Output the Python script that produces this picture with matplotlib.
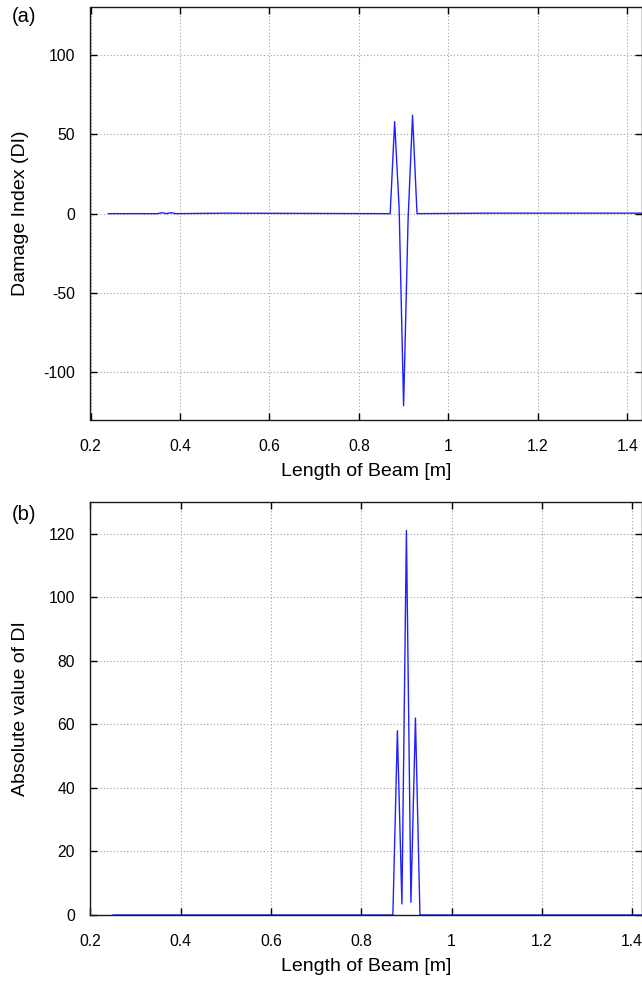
import matplotlib
matplotlib.use("Agg")
import matplotlib.pyplot as plt

plt.rcParams['font.family'] = ['Liberation Sans', 'DejaVu Sans']
plt.rcParams['axes.unicode_minus'] = False

# Panel (a): damage index along the beam (breakpoints of the polyline)
pos_a = [0.24, 0.35, 0.36, 0.37, 0.38, 0.39, 0.50, 0.86, 0.87, 0.88, 0.89, 0.90, 0.91, 0.92, 0.93, 1.08, 1.44]
di_a = [0.0, 0.0, 0.6, 0.0, 0.6, 0.0, 0.3, 0.0, 0.0, 58.0, 3.5, -121.0, -4.0, 62.0, 0.0, 0.3, 0.3]

# Panel (b): absolute value of DI
pos_b = [0.25, 0.86, 0.87, 0.88, 0.89, 0.90, 0.91, 0.92, 0.93, 1.44]
di_b = [0.0, 0.0, 0.0, 58.0, 3.5, 121.0, 4.0, 62.0, 0.0, 0.0]

xticks = [0.2, 0.4, 0.6, 0.8, 1.0, 1.2, 1.4]
xticklabels = ['0.2', '0.4', '0.6', '0.8', '1', '1.2', '1.4']
yticks_a = [-100, -50, 0, 50, 100]
yticks_b = [0, 20, 40, 60, 80, 100, 120]

W, H = 642, 984
fig = plt.figure(figsize=(W / 100, H / 100), dpi=100)

def frac(l, t, r, b):
    return [l / W, 1 - b / H, (r - l) / W, (b - t) / H]

ax_a = fig.add_axes(frac(90.5, 7.3, 642, 420))
ax_b = fig.add_axes(frac(90.5, 502, 642, 915))

line_color = '#2020ff'

ax_a.plot(pos_a, di_a, color=line_color, lw=1.0)
ax_a.set_xlim(0.2, 1.433)
ax_a.set_ylim(-130, 130)
ax_a.set_yticks(yticks_a)
ax_a.set_ylabel('Damage Index (DI)', fontsize=14)

ax_b.plot(pos_b, di_b, color=line_color, lw=1.0)
ax_b.set_xlim(0.2, 1.422)
ax_b.set_ylim(0, 130)
ax_b.set_yticks(yticks_b)
ax_b.set_ylabel('Absolute value of DI', fontsize=14)

for ax in (ax_a, ax_b):
    ax.set_xticks(xticks)
    ax.set_xticklabels(xticklabels)
    ax.set_xlabel('Length of Beam [m]', fontsize=14, labelpad=6)
    ax.grid(True, linestyle=(0, (1, 2)), color='#a0a0a0', lw=0.8)
    ax.tick_params(direction='in', top=True, right=True, labelsize=11.3,
                   length=5, width=1.0)
    ax.tick_params(axis='x', pad=14)
    ax.tick_params(axis='y', pad=11)
    for s in ax.spines.values():
        s.set_linewidth(1.0)
        s.set_color('#1a1a1a')
    ax.yaxis.set_label_coords(-0.112, 0.5)

fig.text(12 / W, 1 - 17 / H, '(a)', fontsize=14.5, va='center', ha='left')
fig.text(12 / W, 1 - 515 / H, '(b)', fontsize=14.5, va='center', ha='left')

fig.savefig('out.png', dpi=100)
